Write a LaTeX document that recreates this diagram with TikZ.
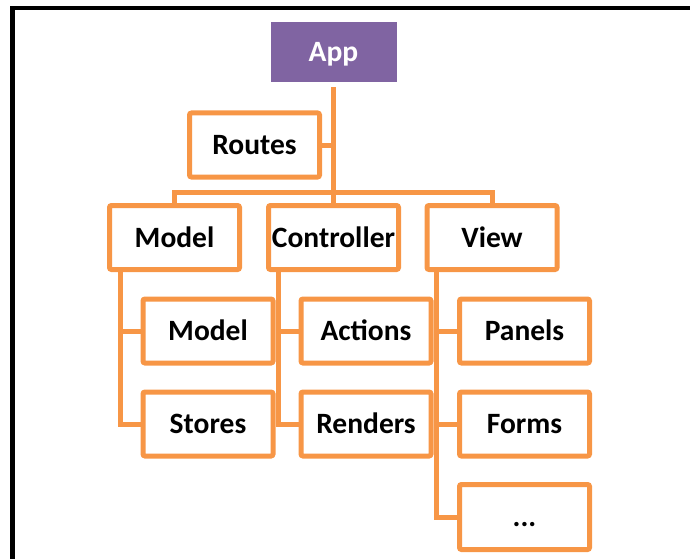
\documentclass[tikz,border=0pt]{standalone}
\usepackage{fontspec}
\setmainfont{Carlito}
\usepackage{tikz}
\usetikzlibrary{calc}
\usetikzlibrary{positioning}

\definecolor{boxorange}{HTML}{F79646}
\definecolor{apppurple}{HTML}{8064A2}

\tikzset{
	box/.style={draw=boxorange, line width=5pt, rounded corners=2pt, fill=white,
		minimum width=130pt, minimum height=64pt, inner sep=0pt,
		font=\fontsize{29.5pt}{31pt}\selectfont\bfseries, text height=19pt, text depth=0pt},
	rootbox/.style={fill=apppurple, text=white, minimum width=126pt, minimum height=60pt,
		inner sep=0pt, font=\fontsize{29.5pt}{31pt}\selectfont\bfseries, text height=19pt, text depth=0pt},
	link/.style={draw=boxorange, line width=5pt}
}

\begin{document}
\begin{tikzpicture}[x=1pt, y=-1pt]
		\useasboundingbox (0,0) rectangle (690,559);

		% frame
		\draw[line width=4.5pt] (690,8) -- (12.5,8) -- (12.5,559);

		\node[rootbox] (app) at (333.5, 52) {App};
		\node[box] (routes) at (254.5, 145) {Routes};

		\node[box] (model) at (174.5, 237.5) {Model};
		\node[box] (ctrl) at (333.5, 237.5) {Controller};
		\node[box] (view) at (492, 237.5) {View};

		\node[box] (submodel) at (208, 331) {Model};
		\node[box] (stores) at (208, 424) {Stores};
		\node[box] (actions) at (366, 331) {Actions};
		\node[box] (renders) at (366, 424) {Renders};
		\node[box] (panels) at (524.5, 331) {Panels};
		\node[box] (forms) at (524.5, 424) {Forms};
		\node[box, minimum height=65pt] (more) at (524.5, 517) {...};

		\coordinate (bus) at (333.5, 192);
		\coordinate (mtrunk) at ($(model.south west)+(13,0)$);
		\coordinate (ctrunk) at ($(ctrl.south west)+(12,0)$);
		\coordinate (vtrunk) at ($(view.south west)+(12,0)$);

		\draw[link, shorten <=5pt] (app.south) -- (ctrl.north);
		\draw[link] (routes.east) -- (routes.east -| app.south);
		\draw[link] (model.north) -- (model.north |- bus) -- (view.north |- bus) -- (view.north);

		\draw[link] (mtrunk) |- (stores.west);
		\draw[link] (mtrunk |- submodel.west) -- (submodel.west);
		\draw[link] (ctrunk) |- (renders.west);
		\draw[link] (ctrunk |- actions.west) -- (actions.west);
		\draw[link] (vtrunk) |- (more.west);
		\draw[link] (vtrunk |- panels.west) -- (panels.west);
		\draw[link] (vtrunk |- forms.west) -- (forms.west);
\end{tikzpicture}
\end{document}
